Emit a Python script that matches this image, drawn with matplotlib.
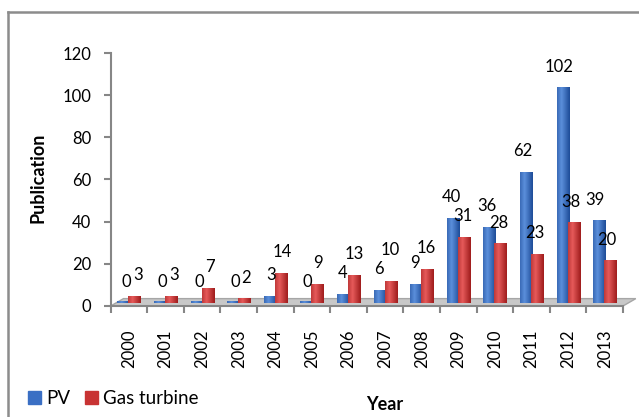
import numpy as np
import matplotlib
matplotlib.use("Agg")
import matplotlib.pyplot as plt
from matplotlib.patches import Polygon, Patch
from matplotlib.lines import Line2D

years = ["2000", "2001", "2002", "2003", "2004", "2005", "2006",
         "2007", "2008", "2009", "2010", "2011", "2012", "2013"]
pv = [0, 0, 0, 0, 3, 0, 4, 6, 9, 40, 36, 62, 102, 39]
gas = [3, 3, 7, 2, 14, 9, 13, 10, 16, 31, 28, 23, 38, 20]

plt.rcParams['font.family'] = ['Lato', 'DejaVu Sans']

fig = plt.figure(figsize=(6.39, 4.17), dpi=100)
ax = fig.add_axes([0.1732, 0.2662, 0.8247, 0.6067])

x = np.arange(len(years))
w = 0.33
base = 1.5  # bars stand on the 3d floor


def grad_bar(xc, h, c_light, c_dark):
    # cylinder-ish shading across the bar
    if h <= 0:
        h = 0.6
    g = np.linspace(0, 1, 50)
    prof = np.clip(1 - np.abs(g - 0.35) * 1.6, 0, 1)[None, :, None]
    cl = np.array(matplotlib.colors.to_rgb(c_light))
    cd = np.array(matplotlib.colors.to_rgb(c_dark))
    img = cd + (cl - cd) * prof
    ax.imshow(img, extent=[xc - w / 2, xc + w / 2, base, base + h],
              aspect='auto', zorder=3, interpolation='bilinear')


# floor
floor = Polygon([(-0.5, 0), (13.5, 0), (13.85, 3.5), (-0.15, 3.5)],
                closed=True, facecolor='#C8C8C8', edgecolor='#A6A6A6',
                lw=1, zorder=1)
ax.add_patch(floor)

for i in x:
    grad_bar(i - 0.15, pv[i], '#5B8FDB', '#1F4E9A')
    grad_bar(i + 0.15, gas[i], '#E65A5A', '#A11E1E')
    t = i / 13
    y_pv = pv[i] + base + 10
    y_gas = gas[i] + base + 10
    # push the red label up when it would collide with the blue one
    if len(str(gas[i])) > 1 and 0 <= gas[i] - pv[i] < 6:
        y_gas = y_pv + 9
    ax.text(i - 0.06 - 0.2 * t, y_pv, str(pv[i]), ha='center',
            va='center', fontsize=12, zorder=5)
    ax.text(i + 0.24 - 0.18 * t, y_gas, str(gas[i]), ha='center',
            va='center', fontsize=12, zorder=5)

ax.set_xlim(-0.5, 13.9)
ax.set_ylim(0, 120)
ax.set_yticks(range(0, 121, 20))
ax.set_xticks(x)
ax.set_xticklabels(years, rotation=90, fontsize=12)
ax.set_xticks(np.arange(-0.5, 14, 1), minor=True)
ax.tick_params(axis='x', which='major', length=0, pad=17)
ax.tick_params(axis='x', which='minor', length=5, color='#868686', width=1.5)
ax.tick_params(axis='y', length=5, color='#868686', width=1.5, pad=9,
               labelsize=12)

for s in ['top', 'right']:
    ax.spines[s].set_visible(False)
ax.spines['left'].set_color('#868686')
ax.spines['left'].set_linewidth(1.5)
ax.spines['bottom'].set_color('#868686')
ax.spines['bottom'].set_linewidth(1.5)
ax.spines['bottom'].set_bounds(-0.5, 13.5)

fig.text(0.059, 0.573, "Publication", rotation=90, ha='center', va='center',
         fontsize=13, fontweight='bold')
fig.text(0.602, 0.029, "Year", ha='center', va='center', fontsize=13,
         fontweight='bold')

handles = [Patch(color='#3A6FC4', label='PV'),
           Patch(color='#C83333', label='Gas turbine')]
fig.legend(handles=handles, loc='center left', bbox_to_anchor=(0.018, 0.044),
           ncol=2, frameon=False, fontsize=13.5, handlelength=0.65,
           handleheight=0.65, handletextpad=0.3, columnspacing=0.8)

# chart frame
fig.add_artist(Line2D([0.0125, 0.0125], [0, 0.971], color='#8C8C8C', lw=1.8))
fig.add_artist(Line2D([0.0125, 1.0], [0.971, 0.971], color='#8C8C8C', lw=1.8))

fig.savefig("out.png", dpi=100)
